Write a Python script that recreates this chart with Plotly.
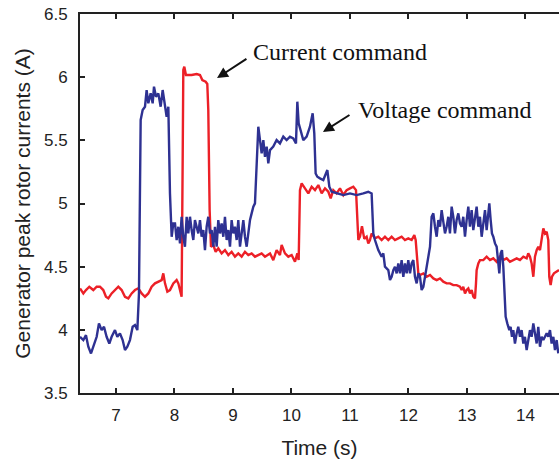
import plotly.graph_objects as go

# Voltage command (blue) — time (s), current (A)
t_voltage = [
    6.385, 6.442, 6.487, 6.527, 6.573, 6.624, 6.670, 6.709, 6.755, 6.795, 6.840, 6.886, 6.926, 6.983,
    7.023, 7.068, 7.114, 7.154, 7.194, 7.239, 7.285, 7.325, 7.365, 7.393, 7.410, 7.422, 7.456, 7.496,
    7.524, 7.553, 7.593, 7.627, 7.650, 7.684, 7.724, 7.764, 7.798, 7.838, 7.866, 7.895, 7.923, 7.952,
    7.980, 8.009, 8.037, 8.066, 8.094, 8.122, 8.151, 8.179, 8.208, 8.236, 8.265, 8.293, 8.322, 8.350,
    8.379, 8.407, 8.436, 8.464, 8.493, 8.521, 8.550, 8.578, 8.607, 8.635, 8.664, 8.692, 8.721, 8.749,
    8.778, 8.806, 8.835, 8.863, 8.892, 8.920, 8.949, 8.977, 9.006, 9.034, 9.063, 9.091, 9.120, 9.148,
    9.177, 9.205, 9.234, 9.262, 9.291, 9.319, 9.348, 9.376, 9.405, 9.433, 9.462, 9.490, 9.519, 9.547,
    9.576, 9.604, 9.633, 9.689, 9.746, 9.803, 9.860, 9.917, 9.974, 10.031, 10.077, 10.100, 10.123,
    10.157, 10.202, 10.259, 10.316, 10.362, 10.390, 10.413, 10.442, 10.487, 10.544, 10.613, 10.647,
    10.687, 10.772, 10.886, 11.000, 11.114, 11.228, 11.313, 11.370, 11.399, 11.427, 11.484, 11.541,
    11.570, 11.598, 11.655, 11.684, 11.712, 11.741, 11.769, 11.798, 11.826, 11.855, 11.883, 11.912,
    11.940, 11.969, 11.997, 12.026, 12.054, 12.083, 12.111, 12.140, 12.168, 12.197, 12.225, 12.254,
    12.282, 12.311, 12.339, 12.368, 12.396, 12.425, 12.453, 12.482, 12.510, 12.539, 12.567, 12.595,
    12.624, 12.652, 12.681, 12.709, 12.738, 12.766, 12.795, 12.823, 12.852, 12.880, 12.909, 12.937,
    12.966, 12.994, 13.023, 13.051, 13.080, 13.108, 13.137, 13.165, 13.194, 13.222, 13.251, 13.279,
    13.308, 13.336, 13.365, 13.382, 13.405, 13.427, 13.450, 13.479, 13.507, 13.536, 13.553, 13.575,
    13.598, 13.621, 13.644, 13.661, 13.689, 13.724, 13.746, 13.769, 13.792, 13.820, 13.849, 13.877,
    13.906, 13.934, 13.963, 13.991, 14.020, 14.048, 14.077, 14.105, 14.134, 14.162, 14.191, 14.219,
    14.248, 14.276, 14.305, 14.333, 14.362, 14.390, 14.419, 14.447, 14.476, 14.504, 14.533, 14.561,
]
voltage_cmd = [
    3.945, 3.919, 3.958, 3.866, 3.813, 3.892, 3.945, 4.051, 3.998, 4.024, 3.945, 3.892, 3.945, 3.998,
    3.945, 3.972, 3.919, 3.840, 3.866, 3.919, 4.024, 4.038, 3.998, 4.288, 5.080, 5.661, 5.740, 5.766,
    5.898, 5.793, 5.872, 5.793, 5.925, 5.845, 5.872, 5.766, 5.898, 5.793, 5.687, 5.766, 5.080, 4.737,
    4.843, 4.843, 4.711, 4.816, 4.684, 4.895, 4.737, 4.658, 4.895, 4.763, 4.895, 4.790, 4.711, 4.869,
    4.816, 4.763, 4.869, 4.737, 4.790, 4.631, 4.816, 4.895, 4.763, 4.790, 4.658, 4.816, 4.658, 4.869,
    4.763, 4.843, 4.737, 4.895, 4.711, 4.790, 4.658, 4.869, 4.763, 4.816, 4.711, 4.869, 4.658, 4.790,
    4.869, 4.737, 4.658, 4.763, 4.869, 4.922, 4.975, 5.001, 5.344, 5.608, 5.502, 5.397, 5.502, 5.370,
    5.450, 5.318, 5.423, 5.450, 5.502, 5.476, 5.529, 5.502, 5.529, 5.515, 5.476, 5.806, 5.634,
    5.581, 5.502, 5.529, 5.608, 5.714, 5.555, 5.238, 5.212, 5.199, 5.186, 5.265, 5.133,
    5.093, 5.080, 5.067, 5.080, 5.067, 5.080, 5.093, 5.080, 4.763, 4.711, 4.631, 4.579,
    4.605, 4.500, 4.473, 4.394, 4.420, 4.473, 4.500, 4.447, 4.526, 4.447, 4.552, 4.420,
    4.526, 4.447, 4.552, 4.447, 4.526, 4.552, 4.420, 4.368, 4.447, 4.420, 4.315, 4.341,
    4.420, 4.473, 4.579, 4.658, 4.895, 4.922, 4.816, 4.737, 4.869, 4.816, 4.948, 4.869,
    4.763, 4.816, 4.895, 4.763, 4.975, 4.895, 4.763, 4.869, 4.922, 4.843, 4.816, 4.895,
    4.737, 4.869, 4.975, 4.816, 4.948, 4.790, 4.869, 4.975, 4.816, 4.895, 4.737, 4.869,
    4.948, 4.790, 4.895, 5.001, 4.869, 4.763, 4.737, 4.684, 4.658, 4.552, 4.447, 4.605,
    4.631, 4.500, 4.315, 4.104, 4.051, 3.998, 4.024, 3.945, 3.998, 3.892, 3.972, 4.024,
    3.945, 3.998, 3.892, 3.945, 3.840, 3.919, 3.998, 3.945, 4.051, 3.972, 3.892, 4.024,
    3.866, 3.945, 3.919, 3.945, 3.972, 3.945, 3.998, 3.892, 3.945, 3.840, 3.919, 3.813,
]

# Current command (red) — time (s), current (A)
t_current = [
    6.385, 6.442, 6.487, 6.544, 6.613, 6.670, 6.726, 6.783, 6.829, 6.869, 6.926, 6.983, 7.040, 7.097,
    7.154, 7.211, 7.268, 7.325, 7.382, 7.439, 7.496, 7.553, 7.610, 7.667, 7.724, 7.781, 7.809, 7.838,
    7.878, 7.923, 7.980, 8.037, 8.066, 8.100, 8.122, 8.140, 8.151, 8.168, 8.196, 8.293, 8.379, 8.436,
    8.476, 8.533, 8.561, 8.578, 8.601, 8.624, 8.664, 8.704, 8.749, 8.806, 8.863, 8.920, 8.977, 9.034,
    9.091, 9.148, 9.205, 9.262, 9.319, 9.376, 9.433, 9.490, 9.547, 9.604, 9.633, 9.689, 9.746, 9.803,
    9.832, 9.889, 9.946, 10.003, 10.060, 10.100, 10.123, 10.145, 10.174, 10.231, 10.288, 10.345,
    10.402, 10.459, 10.516, 10.573, 10.630, 10.670, 10.715, 10.772, 10.829, 10.886, 10.943, 11.000,
    11.057, 11.103, 11.125, 11.143, 11.171, 11.205, 11.245, 11.285, 11.313, 11.342, 11.370, 11.427,
    11.484, 11.541, 11.598, 11.655, 11.712, 11.769, 11.826, 11.883, 11.940, 11.997, 12.054, 12.100,
    12.123, 12.151, 12.168, 12.197, 12.254, 12.311, 12.368, 12.425, 12.482, 12.539, 12.595, 12.652,
    12.709, 12.766, 12.823, 12.880, 12.909, 12.937, 12.966, 12.994, 13.023, 13.051, 13.080, 13.108,
    13.137, 13.154, 13.165, 13.194, 13.222, 13.279, 13.336, 13.393, 13.450, 13.507, 13.564, 13.621,
    13.678, 13.735, 13.792, 13.849, 13.906, 13.963, 14.020, 14.048, 14.077, 14.105, 14.134, 14.162,
    14.191, 14.219, 14.248, 14.276, 14.305, 14.333, 14.362, 14.390, 14.407, 14.430, 14.453, 14.487,
    14.533, 14.573,
]
current_cmd = [
    4.328, 4.288, 4.315, 4.341, 4.315, 4.341, 4.341, 4.315, 4.262, 4.249, 4.288, 4.315, 4.341, 4.315,
    4.262, 4.249, 4.288, 4.315, 4.328, 4.288, 4.262, 4.288, 4.341, 4.368, 4.381, 4.394, 4.447, 4.368,
    4.302, 4.315, 4.368, 4.394, 4.368, 4.288, 4.262, 5.344, 6.057, 6.083, 6.017, 6.017, 6.025, 6.017,
    5.977, 5.964, 5.946, 5.740, 4.948, 4.658, 4.671, 4.618, 4.645, 4.605, 4.631, 4.592, 4.618, 4.579,
    4.605, 4.579, 4.618, 4.592, 4.605, 4.579, 4.592, 4.605, 4.579, 4.592, 4.605, 4.552, 4.631, 4.592,
    4.671, 4.605, 4.579, 4.592, 4.539, 4.605, 4.552, 5.106, 5.159, 5.120, 5.080, 5.133,
    5.106, 5.146, 5.080, 5.120, 5.093, 5.040, 5.106, 5.080, 5.120, 5.067, 5.106, 5.120,
    5.133, 5.106, 4.922, 4.711, 4.737, 4.820, 4.720, 4.737, 4.684, 4.711, 4.763, 4.724,
    4.737, 4.711, 4.737, 4.711, 4.737, 4.711, 4.724, 4.737, 4.711, 4.724, 4.711, 4.750,
    4.711, 4.526, 4.447, 4.434, 4.447, 4.420, 4.434, 4.407, 4.394, 4.407, 4.381, 4.368,
    4.368, 4.354, 4.354, 4.341, 4.315, 4.341, 4.288, 4.315, 4.328, 4.288, 4.315, 4.262,
    4.249, 4.368, 4.473, 4.526, 4.552, 4.552, 4.579, 4.552, 4.566, 4.539, 4.579, 4.552,
    4.566, 4.539, 4.552, 4.566, 4.552, 4.579, 4.566, 4.605, 4.579, 4.526, 4.420, 4.579,
    4.631, 4.658, 4.631, 4.737, 4.803, 4.763, 4.776, 4.711, 4.420, 4.354, 4.420, 4.447,
    4.460, 4.473,
]

x_ticks = [7, 8, 9, 10, 11, 12, 13, 14]
y_ticks = [3.5, 4, 4.5, 5, 5.5, 6, 6.5]
y_tick_text = ["3.5", "4", "4.5", "5", "5.5", "6", "6.5"]

fig = go.Figure()
fig.add_trace(go.Scatter(x=t_current, y=current_cmd, mode="lines", name="Current command",
                         line=dict(color="#EC2027", width=2.4)))
fig.add_trace(go.Scatter(x=t_voltage, y=voltage_cmd, mode="lines", name="Voltage command",
                         line=dict(color="#2E3192", width=2.4)))

axis_common = dict(showline=True, linecolor="#222222", linewidth=2, ticks="inside",
                   ticklen=5, tickwidth=2, tickcolor="#222222", showgrid=False, zeroline=False,
                   tickfont=dict(family="Liberation Sans, Arial", size=17, color="#222222"))

fig.update_xaxes(range=[6.385, 14.573], tickvals=x_ticks, mirror="ticks", ticklabelstandoff=6,
                 title=dict(text="Time (s)", standoff=16,
                            font=dict(family="Liberation Sans, Arial", size=21, color="#222222")),
                 **axis_common)
fig.update_yaxes(range=[3.5, 6.5], tickvals=y_ticks, ticktext=y_tick_text, mirror=False,
                 ticklabelstandoff=7,
                 title=dict(text="Generator peak rotor currents (A)", standoff=8,
                            font=dict(family="Liberation Sans, Arial", size=21, color="#222222")),
                 **axis_common)

serif = dict(family="Liberation Serif, Times New Roman", size=24, color="#111111")
fig.add_annotation(x=8.727, y=5.993, ax=9.256, ay=6.152, xref="x", yref="y", axref="x", ayref="y",
                   text="", showarrow=True, arrowhead=2, arrowsize=1.1, arrowwidth=2, arrowcolor="#111111")
fig.add_annotation(x=9.30, y=6.199, xref="x", yref="y", text="Current command", showarrow=False,
                   xanchor="left", yanchor="middle", font=serif)
fig.add_annotation(x=10.538, y=5.566, ax=11.017, ay=5.708, xref="x", yref="y", axref="x", ayref="y",
                   text="", showarrow=True, arrowhead=2, arrowsize=1.1, arrowwidth=2, arrowcolor="#111111")
fig.add_annotation(x=11.10, y=5.740, xref="x", yref="y", text="Voltage command", showarrow=False,
                   xanchor="left", yanchor="middle", font=serif)

fig.update_layout(width=559, height=463, margin=dict(l=80, r=0, t=14, b=70),
                  plot_bgcolor="white", paper_bgcolor="white", showlegend=False)

fig.write_html("out.html")
